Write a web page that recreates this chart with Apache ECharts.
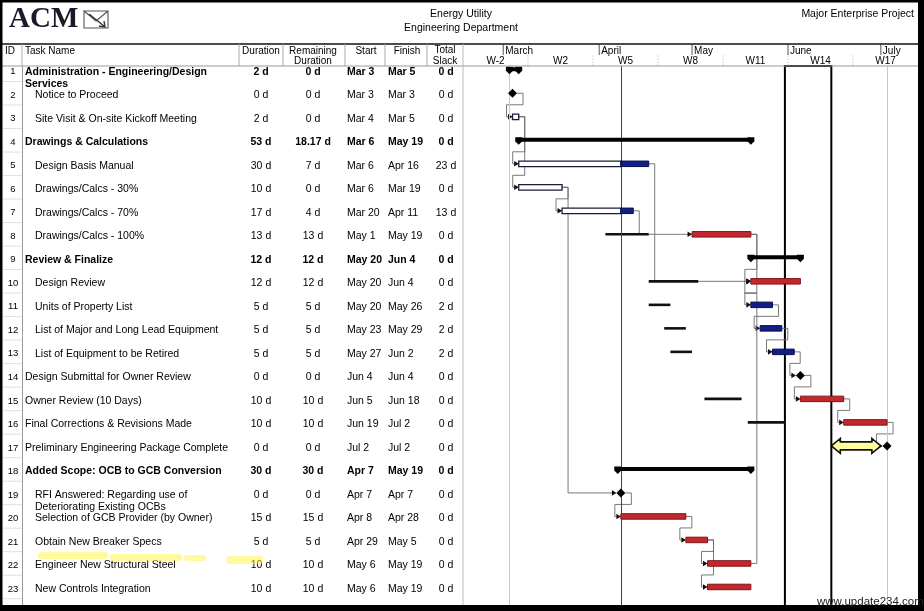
<!DOCTYPE html>
<html><head><meta charset="utf-8">
<script src="https://cdn.jsdelivr.net/npm/echarts@6/dist/echarts.min.js"></script>
<style>html,body{margin:0;padding:0;background:#fff}#c{width:924px;height:611px}</style>
</head><body><div id="c"></div>
<script>
// ---------------- DATA ----------------
const ids = [1,2,3,4,5,6,7,8,9,10,11,12,13,14,15,16,17,18,19,20,21,22,23];
const taskNames = [
  'Administration - Engineering/Design\nServices','Notice to Proceed','Site Visit & On-site Kickoff Meeting',
  'Drawings & Calculations','Design Basis Manual','Drawings/Calcs - 30%','Drawings/Calcs - 70%','Drawings/Calcs - 100%',
  'Review & Finalize','Design Review','Units of Property List','List of Major and Long Lead Equipment','List of Equipment to be Retired',
  'Design Submittal for Owner Review','Owner Review (10 Days)','Final Corrections & Revisions Made','Preliminary Engineering Package Complete',
  'Added Scope: OCB to GCB Conversion','RFI Answered: Regarding use of\nDeteriorating Existing OCBs','Selection of GCB Provider (by Owner)',
  'Obtain New Breaker Specs','Engineer New Structural Steel','New Controls Integration'];
const indentLevels = [0,1,1,0,1,1,1,1,0,1,1,1,1,0,0,0,0,0,1,1,1,1,1];
const kinds = ['S','M','T','S','T','T','T','T','S','T','T','T','T','M','T','T','M','S','M','T','T','T','T'];
const durations = ['2 d','0 d','2 d','53 d','30 d','10 d','17 d','13 d','12 d','12 d','5 d','5 d','5 d','0 d','10 d','10 d','0 d','30 d','0 d','15 d','5 d','10 d','10 d'];
const remainingDurations = ['0 d','0 d','0 d','18.17 d','7 d','0 d','4 d','13 d','12 d','12 d','5 d','5 d','5 d','0 d','10 d','10 d','0 d','30 d','0 d','15 d','5 d','10 d','10 d'];
const starts = ['Mar 3','Mar 3','Mar 4','Mar 6','Mar 6','Mar 6','Mar 20','May 1','May 20','May 20','May 20','May 23','May 27','Jun 4','Jun 5','Jun 19','Jul 2','Apr 7','Apr 7','Apr 8','Apr 29','May 6','May 6'];
const finishes = ['Mar 5','Mar 3','Mar 5','May 19','Apr 16','Mar 19','Apr 11','May 19','Jun 4','Jun 4','May 26','May 29','Jun 2','Jun 4','Jun 18','Jul 2','Jul 2','May 19','Apr 7','Apr 28','May 5','May 19','May 19'];
const totalSlack = ['0 d','0 d','0 d','0 d','23 d','0 d','13 d','0 d','0 d','0 d','2 d','2 d','2 d','0 d','0 d','0 d','0 d','0 d','0 d','0 d','0 d','0 d','0 d'];

const baselineRows = [8,10,11,12,13,15,16];
const baselineStarts = ['Apr 3','Apr 17','Apr 17','Apr 22','Apr 24','May 5','May 19'];
const baselineFinishes = ['Apr 16','May 2','Apr 23','Apr 28','Apr 30','May 16','May 30'];

const links = [[2,3],[3,5],[3,6],[5,10],[6,7],[6,19],[7,8],[8,10],[8,11],[11,12],[12,13],[13,14],[14,15],[15,16],[16,17],[19,20],[20,21],[21,22],[21,23],[22,10]];

const statusDate = 'Apr 8';
const projectStart = 'Mar 3';
const projectFinish = 'Jul 3';
const highlightFrom = 'May 31';
const highlightTo = 'Jun 15';
const calloutRow = 17;
const calloutFrom = 'Jun 15';
const calloutTo = 'Jun 30';

const monthNames = ['March','April','May','June','July'];
const monthStarts = ['Mar 1','Apr 1','May 1','Jun 1','Jul 1'];
const weekLabels = ['W-2','W2','W5','W8','W11','W14','W17'];
const weekStarts = ['Feb 16','Mar 9','Mar 30','Apr 20','May 11','Jun 1','Jun 22'];
const axisFrom = 'Feb 16';
const axisTo = 'Jul 13';

// ---------------- HELPERS ----------------
const MON = {Feb:-28, Mar:0, Apr:31, May:61, Jun:92, Jul:122};
const day = s => { const p = s.split(' '); return MON[p[0]] + Number(p[1]) - 1; };
const FONT = '"Liberation Sans", Arial, sans-serif';
const statusDay = day(statusDate);
const COL = {id:13, name0:25, name1:35, dur:261, rem:313, start:347, finish:388, slack:446};

function txt(x, y, text, font, align, va, fill){
  return {type:'text', x, y, style:{text, font, fill: fill||'#000', align, textAlign:align,
    verticalAlign: va||'middle', textVerticalAlign: va||'middle', lineHeight:12}};
}

// table rows
function renderTable(params, api){
  const i = api.value(2), row = api.value(1);
  const yc = api.coord([0, row])[1];
  const half = api.size([0,1])[1]/2;
  const px = v => api.coord([v, row])[0];
  const bold = kinds[i] === 'S';
  const f = (bold ? 'bold ' : '') + '10.5px ' + FONT;
  const ty = yc + 2;
  const ch = [];
  ch.push(txt(px(COL.id), ty, String(ids[i]), '9.5px ' + FONT, 'center'));
  const nx = px(indentLevels[i] ? COL.name1 : COL.name0);
  if (taskNames[i].indexOf('\n') >= 0) ch.push(txt(nx, ty - 6, taskNames[i], f, 'left', 'top'));
  else ch.push(txt(nx, ty, taskNames[i], f, 'left'));
  ch.push(txt(px(COL.dur), ty, durations[i], f, 'center'));
  ch.push(txt(px(COL.rem), ty, remainingDurations[i], f, 'center'));
  ch.push(txt(px(COL.start), ty, starts[i], f, 'left'));
  ch.push(txt(px(COL.finish), ty, finishes[i], f, 'left'));
  ch.push(txt(px(COL.slack), ty, totalSlack[i], f, 'center'));
  ch.push({type:'line', shape:{x1:px(3), y1:yc+half, x2:px(22), y2:yc+half}, style:{stroke:'#e0e0e0', lineWidth:1}});
  return {type:'group', children: ch};
}

// gantt bars
function renderTask(params, api){
  const i = api.value(3), row = api.value(2);
  const [xs, yc] = api.coord([api.value(0), row]);
  const xe = api.coord([api.value(1), row])[0];
  const kind = kinds[i];
  const ch = [];
  if (kind === 'S'){
    const y = yc - 0.5;
    ch.push({type:'rect', shape:{x:xs, y:y-2, width:xe-xs, height:4}, style:{fill:'#000'}});
    [xs, xe].forEach(x => ch.push({type:'polygon', shape:{points:[[x-3.5,y-2.5],[x+3.5,y-2.5],[x+3.5,y+1.5],[x,y+5],[x-3.5,y+1.5]]}, style:{fill:'#000'}}));
  } else if (kind === 'M'){
    ch.push({type:'polygon', shape:{points:[[xe,yc-4.5],[xe+4.5,yc],[xe,yc+4.5],[xe-4.5,yc]]}, style:{fill:'#000'}});
  } else {
    const sx = api.coord([statusDay, row])[0];
    const critical = totalSlack[i] === '0 d';
    const h = 5.5;
    if (xs < sx) ch.push({type:'rect', shape:{x:xs, y:yc-h/2, width:Math.min(xe,sx)-xs, height:h}, style:{fill:'#fff', stroke:'#1b1b3a', lineWidth:1.3}});
    if (xe > sx){
      const x0 = Math.max(xs, sx);
      ch.push({type:'rect', shape:{x:x0, y:yc-h/2, width:xe-x0, height:h},
        style:{fill: critical ? '#c4282d' : '#111d8a', stroke: critical ? '#7d1518' : '#080f4a', lineWidth:1}});
    }
  }
  return {type:'group', children: ch};
}

function renderBaseline(params, api){
  const row = api.value(2);
  const [xs, yc] = api.coord([api.value(0), row]);
  const xe = api.coord([api.value(1), row])[0];
  return {type:'rect', shape:{x:xs, y:yc-1.3, width:xe-xs, height:2.6}, style:{fill:'#111'}};
}

function taskEndX(api, i){
  const r = ids[i];
  const x = api.coord([day(finishes[i]) + 1, r])[0];
  return kinds[i] === 'M' ? x + 4.5 : x;
}
function taskStartX(api, i){
  const r = ids[i];
  if (kinds[i] === 'M') return api.coord([day(finishes[i]) + 1, r])[0] - 4.5;
  return api.coord([day(starts[i]), r])[0];
}
function renderLink(params, api){
  const a = api.value(0) - 1, b = api.value(1) - 1;
  const y1 = api.coord([0, ids[a]])[1], y2 = api.coord([0, ids[b]])[1];
  const xe = taskEndX(api, a), xs = taskStartX(api, b);
  const g = 6;
  let pts;
  if (xs >= xe + g + 3) pts = [[xe,y1],[xe+g,y1],[xe+g,y2],[xs-1,y2]];
  else {
    const ym = y2 + (y2 > y1 ? -12 : 12);
    pts = [[xe,y1],[xe+g,y1],[xe+g,ym],[xs-g,ym],[xs-g,y2],[xs-1,y2]];
  }
  return {type:'group', children:[
    {type:'polyline', shape:{points:pts}, style:{stroke:'#6a6a6a', lineWidth:0.9, fill:null}},
    {type:'polygon', shape:{points:[[xs,y2],[xs-4.5,y2-2.8],[xs-4.5,y2+2.8]]}, style:{fill:'#111'}}
  ]};
}

function renderCallout(params, api){
  const row = api.value(2);
  const [x0, yc] = api.coord([api.value(0), row]);
  const x1 = api.coord([api.value(1), row])[0];
  const hl = 9, hh = 7.5, sh = 4;
  return {type:'polygon', shape:{points:[[x0,yc],[x0+hl,yc-hh],[x0+hl,yc-sh],[x1-hl,yc-sh],[x1-hl,yc-hh],[x1,yc],[x1-hl,yc+hh],[x1-hl,yc+sh],[x0+hl,yc+sh],[x0+hl,yc+hh]]},
    style:{fill:'#ffff9c', stroke:'#111', lineWidth:1.6}};
}

function renderMonth(params, api){
  const d = api.value(0), i = api.value(1);
  const top = api.coord([d, 0.05]), bot = api.coord([d, 1.0]);
  const ly = api.coord([d, 0.62])[1];
  return {type:'group', children:[
    {type:'line', shape:{x1:top[0], y1:top[1], x2:bot[0], y2:bot[1]}, style:{stroke:'#555', lineWidth:1}},
    txt(top[0] + 2, ly, monthNames[i], '10px ' + FONT, 'left')
  ]};
}
function renderWeek(params, api){
  const d = api.value(0), i = api.value(1);
  const top = api.coord([d, 1.05]), bot = api.coord([d, 2.0]);
  const c = api.coord([d + 10.5, 1.58]);
  const ch = [txt(c[0], c[1], weekLabels[i], '10px ' + FONT, 'center')];
  if (i > 0) ch.push({type:'line', shape:{x1:top[0], y1:top[1], x2:bot[0], y2:bot[1]}, style:{stroke:'#aaa', lineWidth:1, lineDash:[1,2]}});
  return {type:'group', children: ch};
}

// ---------------- STATIC GRAPHICS ----------------
const G = [];
const gt = (x, y, text, font, align, fill) => G.push({type:'text', x, y, z:50,
  style:{text, font, fill: fill||'#000', textAlign:align||'left', align:align||'left', textVerticalAlign:'middle', verticalAlign:'middle'}});
const gl = (x1, y1, x2, y2, stroke, w) => G.push({type:'line', z:40, shape:{x1,y1,x2,y2}, style:{stroke, lineWidth:w||1}});
// header lines
gl(2, 44, 918, 44, '#111', 1.3);
gl(2, 66, 918, 66, '#999', 1);
[22, 239, 283, 345, 385, 427].forEach(x => gl(x, 44, x, 66, '#aaa'));
gl(22.5, 66, 22.5, 605, '#999');
gl(463, 44, 463, 605, '#bbb');
// header texts
gt(9, 20, 'ACM', 'bold 29px "Liberation Serif", "DejaVu Serif", serif', 'left', '#1a1a2a');
gt(461, 14, 'Energy Utility', '10.5px ' + FONT, 'center');
gt(461, 28, 'Engineering Department', '10.5px ' + FONT, 'center');
gt(914, 14, 'Major Enterprise Project', '10.5px ' + FONT, 'right');
const hf = '10px ' + FONT;
gt(5, 51, 'ID', hf); gt(25, 51, 'Task Name', hf);
gt(261, 51, 'Duration', hf, 'center');
gt(313, 51, 'Remaining', hf, 'center'); gt(313, 61, 'Duration', hf, 'center');
gt(366, 51, 'Start', hf, 'center'); gt(407, 51, 'Finish', hf, 'center');
gt(445, 50, 'Total', hf, 'center'); gt(445, 61, 'Slack', hf, 'center');
// logo mark
G.push({type:'polyline', z:50, shape:{points:[[84,11],[108,11],[108,28],[84,28],[84,11],[96,21],[108,11]]}, style:{stroke:'#555', lineWidth:1.1, fill:null}});
G.push({type:'polyline', z:50, shape:{points:[[89,14],[104,26]]}, style:{stroke:'#333', lineWidth:1.4, fill:null}});
G.push({type:'polyline', z:50, shape:{points:[[99,26],[105,27],[104,21]]}, style:{stroke:'#333', lineWidth:1.4, fill:null}});
// highlighter marks over row 22
[[38,552,70,7],[110,554,72,7],[184,555,22,6],[227,556,36,8]].forEach(r =>
  G.push({type:'rect', z:60, shape:{x:r[0], y:r[1], width:r[2], height:r[3], r:3}, style:{fill:'rgba(255,245,60,0.5)'}}));
// outer frame
[[0,0,924,2.5],[0,0,2.5,611],[918,0,6,611],[0,605,924,6]].forEach(r =>
  G.push({type:'rect', z:70, shape:{x:r[0], y:r[1], width:r[2], height:r[3]}, style:{fill:'#000'}}));
G.push({type:'text', x:817, y:602, z:80, style:{text:'www.update234.com', font:'11.5px ' + FONT, fill:'#222', textAlign:'left', align:'left', textVerticalAlign:'middle', verticalAlign:'middle'}});

// ---------------- CHART ----------------
const yAxisCommon = {type:'value', min:0.84, max:23.81, inverse:true, show:false};
const option = {
  animation:false,
  backgroundColor:'#fff',
  grid:[
    {left:0, top:66, width:462, height:540},
    {left:463, top:66, width:455, height:540},
    {left:463, top:44, width:455, height:22}
  ],
  xAxis:[
    {type:'value', gridIndex:0, min:0, max:462, show:false},
    {type:'value', gridIndex:1, min:day(axisFrom), max:day(axisTo), show:false},
    {type:'value', gridIndex:2, min:day(axisFrom), max:day(axisTo), show:false}
  ],
  yAxis:[
    Object.assign({gridIndex:0}, yAxisCommon),
    Object.assign({gridIndex:1}, yAxisCommon),
    {type:'value', gridIndex:2, min:0, max:2, inverse:true, show:false}
  ],
  graphic:{elements:G},
  series:[
    {type:'custom', name:'table', xAxisIndex:0, yAxisIndex:0, renderItem:renderTable, silent:true,
      data: ids.map((id,i) => [0, id, i]), encode:{x:0, y:1}},
    {type:'line', xAxisIndex:1, yAxisIndex:1, data:[], silent:true,
      markLine:{silent:true, symbol:['none','none'], label:{show:false},
        data:[
          {xAxis: day(projectStart), lineStyle:{color:'#c8c8c8', width:1, type:'solid'}},
          {xAxis: day(statusDate), lineStyle:{color:'#444', width:1, type:'solid'}},
          {xAxis: day(projectFinish), lineStyle:{color:'#c8c8c8', width:1, type:'solid'}}
        ]},
      markArea:{silent:true, label:{show:false},
        itemStyle:{color:'rgba(0,0,0,0)', borderColor:'#000', borderWidth:2},
        data:[[{xAxis: day(highlightFrom)}, {xAxis: day(highlightTo)}]]}
    },
    {type:'custom', name:'links', xAxisIndex:1, yAxisIndex:1, renderItem:renderLink, silent:true, z:3,
      data: links.map(l => [l[0], l[1]]), encode:{x:[], y:[]}},
    {type:'custom', name:'baseline', xAxisIndex:1, yAxisIndex:1, renderItem:renderBaseline, silent:true, z:4,
      data: baselineRows.map((r,k) => [day(baselineStarts[k]), day(baselineFinishes[k]) + 1, r]), encode:{x:[0,1], y:2}},
    {type:'custom', name:'tasks', xAxisIndex:1, yAxisIndex:1, renderItem:renderTask, silent:true, z:5,
      data: ids.map((id,i) => [day(starts[i]), day(finishes[i]) + 1, id, i]), encode:{x:[0,1], y:2}},
    {type:'custom', name:'callout', xAxisIndex:1, yAxisIndex:1, renderItem:renderCallout, silent:true, z:6,
      data: [[day(calloutFrom), day(calloutTo) + 1, calloutRow]], encode:{x:[0,1], y:2}},
    {type:'custom', name:'months', xAxisIndex:2, yAxisIndex:2, renderItem:renderMonth, silent:true,
      data: monthStarts.map((m,i) => [day(m), i]), encode:{x:0, y:[]}},
    {type:'custom', name:'weeks', xAxisIndex:2, yAxisIndex:2, renderItem:renderWeek, silent:true,
      data: weekStarts.map((w,i) => [day(w), i]), encode:{x:0, y:[]}}
  ]
};
const chart = echarts.init(document.getElementById('c'), null, {renderer:'canvas'});
chart.setOption(option);
</script>
</body></html>
